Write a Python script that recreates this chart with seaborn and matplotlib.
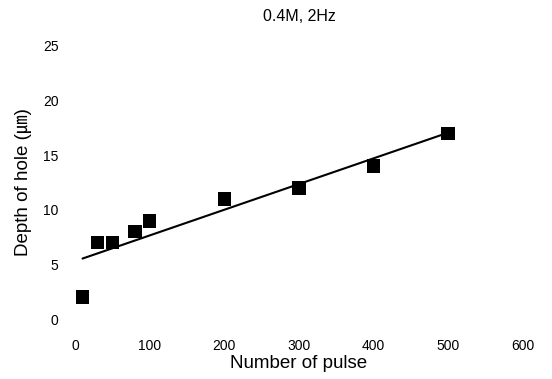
import matplotlib
matplotlib.use("Agg")
import matplotlib.pyplot as plt
import seaborn as sns
import pandas as pd

pulses = [10, 30, 50, 80, 100, 200, 300, 400, 500]
depth = [2, 7, 7, 8, 9, 11, 12, 14, 17]
x_ticks = [0, 100, 200, 300, 400, 500, 600]
y_ticks = [0, 5, 10, 15, 20, 25]

sns.set_theme(style="white")
plt.rcParams['font.family'] = ['Liberation Sans', 'Noto Sans CJK KR', 'DejaVu Sans']

df = pd.DataFrame({"pulse": pulses, "depth": depth})

fig = plt.figure(figsize=(5.52, 3.79), dpi=100)
ax = fig.add_axes([0.136, 0.158, 0.811, 0.721])

sns.regplot(data=df, x="pulse", y="depth", ax=ax, ci=None, truncate=True,
            marker="s",
            scatter_kws=dict(s=95, color="black", edgecolor="none", alpha=1, zorder=3),
            line_kws=dict(color="black", lw=1.5))

ax.set_xlim(0, 600)
ax.set_ylim(0, 25)
ax.set_xticks(x_ticks)
ax.set_yticks(y_ticks)
ax.tick_params(axis="both", length=0, labelsize=10, colors="black")
ax.tick_params(axis="x", pad=14)
ax.tick_params(axis="y", pad=12)
for s in ax.spines.values():
    s.set_visible(False)
ax.set_xlabel("Number of pulse", fontsize=13.5, color="black", labelpad=2)
ax.set_ylabel("Depth of hole (㎛)", fontsize=13.5, color="black", labelpad=8)
ax.set_title("0.4M, 2Hz", fontsize=11.5, color="black", pad=18)

fig.savefig("out.png", dpi=100)
